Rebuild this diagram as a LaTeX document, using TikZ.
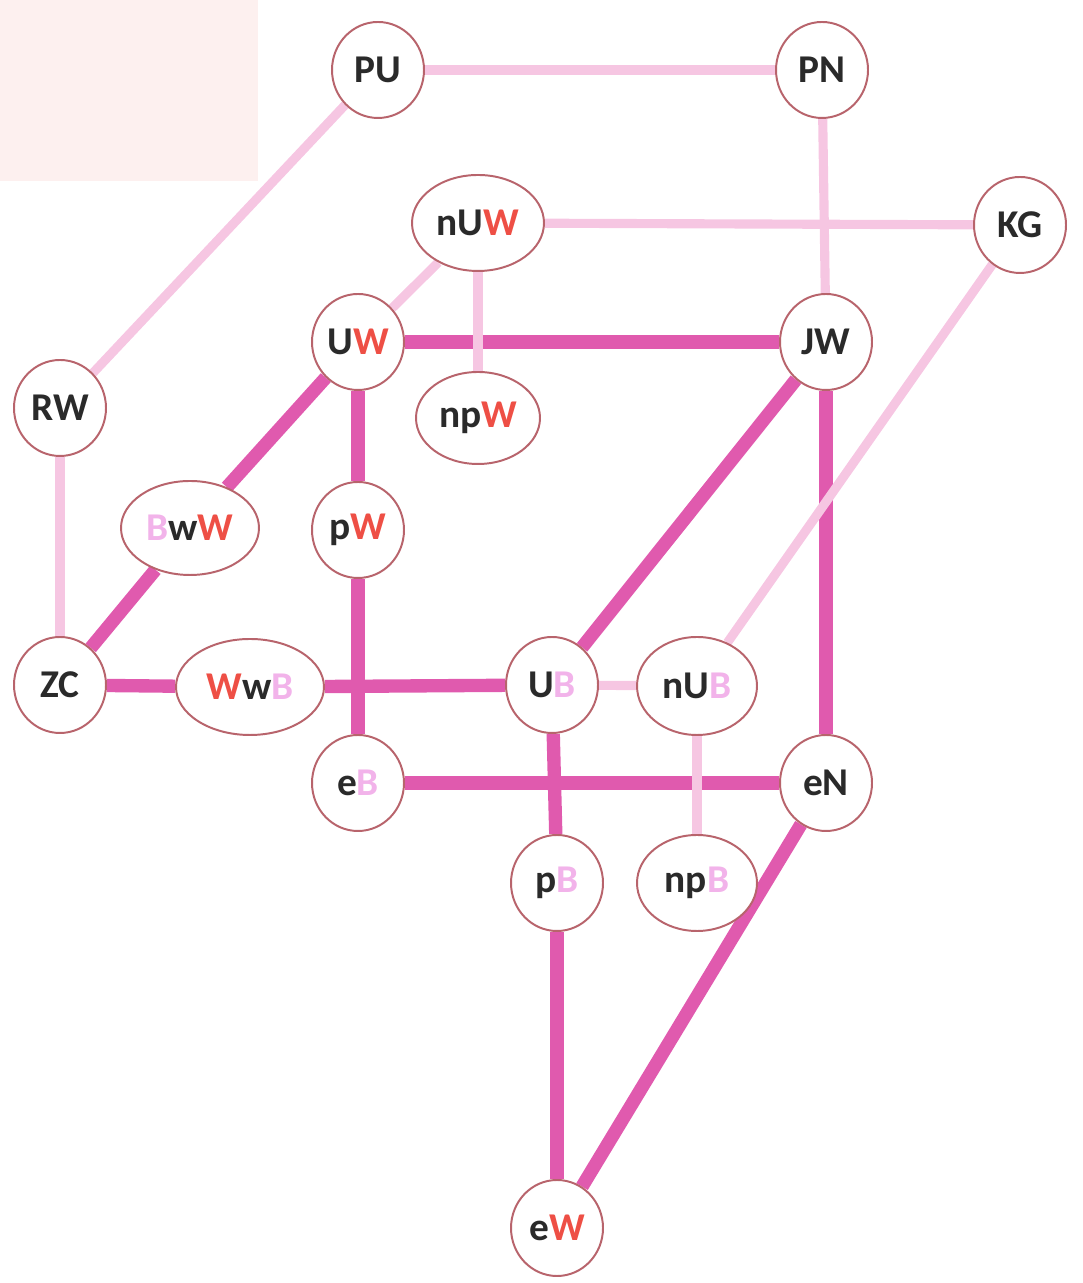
\documentclass[tikz,border=0pt]{standalone}
\usepackage{fontspec}
\setmainfont{Carlito}
\usetikzlibrary{shapes.geometric,backgrounds}
\definecolor{edgedark}{HTML}{E05AAE}
\definecolor{edgelight}{HTML}{F6C6E2}
\definecolor{rim}{HTML}{B8646C}
\definecolor{ink}{HTML}{2A2A2A}
\definecolor{wred}{HTML}{EE4F45}
\definecolor{bpink}{HTML}{F2B3EA}
\definecolor{wash}{HTML}{FDF0EF}
\newcommand{\redW}{\textcolor{wred}{W}}
\newcommand{\pinkB}{\textcolor{bpink}{B}}
\begin{document}
\begin{tikzpicture}[
  stn/.style={ellipse,draw=rim,line width=1.4pt,fill=white,minimum width=2.3cm,minimum height=2.4cm,inner sep=0pt,text=ink,font=\fontsize{28}{32}\selectfont\bfseries},
  dark/.style={draw=edgedark,line width=9.5pt},
  light/.style={draw=edgelight,line width=6.5pt}]
\useasboundingbox (0.,0.) rectangle (27.05,32.075);
\node[stn] (PU) at (9.45,30.325) {PU};
\node[stn] (PN) at (20.55,30.325) {PN};
\node[stn,minimum width=3.3cm] (nUW) at (11.95,26.5) {nU\redW};
\node[stn] (KG) at (25.5,26.45) {KG};
\node[stn] (UW) at (8.95,23.525) {U\redW};
\node[stn] (JW) at (20.65,23.525) {JW};
\node[stn,minimum width=3.1cm,minimum height=2.3cm] (npW) at (11.95,21.625) {np\redW};
\node[stn] (RW) at (1.5,21.875) {RW};
\node[stn,minimum width=3.45cm,minimum height=2.35cm] (BwW) at (4.75,18.875) {\pinkB w\redW};
\node[stn] (pW) at (8.95,18.825) {p\redW};
\node[stn] (ZC) at (1.5,14.95) {ZC};
\node[stn,minimum width=3.7cm] (WwB) at (6.25,14.9) {\redW w\pinkB};
\node[stn] (UB) at (13.8,14.95) {U\pinkB};
\node[stn,minimum width=3.0cm,minimum height=2.45cm] (nUB) at (17.425,14.925) {nU\pinkB};
\node[stn] (eB) at (8.95,12.5) {e\pinkB};
\node[stn] (eN) at (20.65,12.5) {eN};
\node[stn] (pB) at (13.925,10.) {p\pinkB};
\node[stn,minimum width=3.0cm] (npB) at (17.425,10.) {np\pinkB};
\node[stn] (eW) at (13.925,1.375) {e\redW};
\begin{pgfonlayer}{background}
\fill[wash] (0.,32.075) rectangle (6.45,27.55);
\draw[dark] (UW) -- (JW);
\draw[dark] (UW) -- (BwW);
\draw[dark] (BwW) -- (ZC);
\draw[dark] (UW) -- (pW);
\draw[dark] (pW) -- (eB);
\draw[dark] (ZC) -- (WwB);
\draw[dark] (WwB) -- (UB);
\draw[dark] (UB) -- (JW);
\draw[dark] (JW) -- (eN);
\draw[dark] (eB) -- (eN);
\draw[dark] (UB) -- (pB);
\draw[dark] (pB) -- (eW);
\draw[dark] (eN) -- (eW);
\draw[light] (PU) -- (PN);
\draw[light] (PU) -- (RW);
\draw[light] (PN) -- (JW);
\draw[light] (nUW) -- (KG);
\draw[light] (nUW) -- (UW);
\draw[light] (nUW) -- (npW);
\draw[light] (RW) -- (ZC);
\draw[light] (KG) -- (nUB);
\draw[light] (UB) -- (nUB);
\draw[light] (nUB) -- (npB);
\end{pgfonlayer}
\end{tikzpicture}
\end{document}
